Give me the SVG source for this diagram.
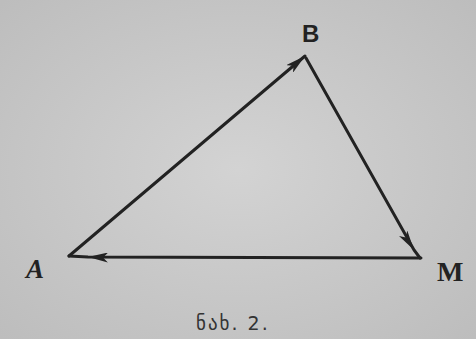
<svg xmlns="http://www.w3.org/2000/svg" width="476" height="339" viewBox="0 0 476 339">
<defs>
<radialGradient id="bg" cx="0.5" cy="0.5" r="0.7">
<stop offset="0" stop-color="#d3d3d3"/>
<stop offset="1" stop-color="#bdbdbd"/>
</radialGradient>
<marker id="ah" viewBox="0 0 20 10" refX="20" refY="5" markerWidth="20" markerHeight="10" markerUnits="userSpaceOnUse" orient="auto">
<path d="M0,0 L20,5 L0,10 L5,5 Z" fill="#222"/>
</marker>
</defs>
<style>
.edge{fill:none;stroke:#222;stroke-width:3;stroke-linecap:round}
.lbl{font-family:"Liberation Serif",serif;font-weight:bold;fill:#222;font-size:24px}
.cap{font-family:"DejaVu Sans","Noto Sans",sans-serif;fill:#333;font-size:19px;letter-spacing:2px}
</style>
<rect width="476" height="339" fill="url(#bg)"/>
<g id="connectors">
<path id="AB" class="edge" d="M69,256 L305,56" marker-end="url(#ah)"/>
<path id="BM" class="edge" d="M306,58 L414,250 L420,258" marker-mid="url(#ah)"/>
<path id="MA" class="edge" d="M421,258 L88,257 L69,256" marker-mid="url(#ah)"/>
</g>
<g id="node-B"><text class="lbl" x="302" y="42" style="font-family:'Liberation Sans',sans-serif">B</text></g>
<g id="node-M"><text class="lbl" x="437" y="281" style="font-size:28px">M</text></g>
<g id="node-A"><text class="lbl" x="26" y="278" font-style="italic" style="font-size:27px">A</text></g>
<g id="caption"><text class="cap" x="196" y="330">ნახ. 2.</text></g>
</svg>
